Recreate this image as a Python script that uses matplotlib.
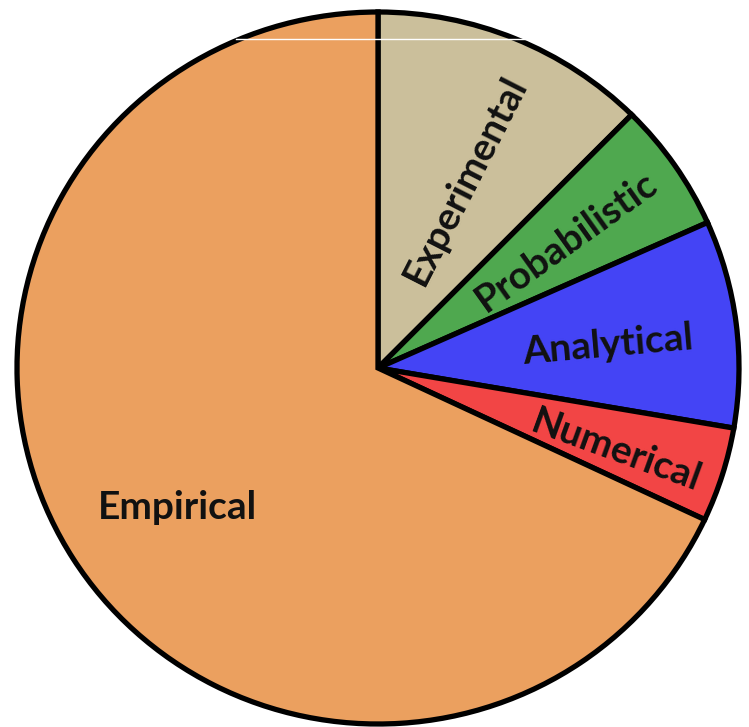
import matplotlib
matplotlib.use("Agg")
import matplotlib.pyplot as plt
from matplotlib.lines import Line2D
import numpy as np

categories = ["Experimental", "Probabilistic", "Analytical", "Numerical", "Empirical"]
shares = [12.4, 5.9, 9.4, 4.3, 68.0]
colors = ["#CBBF9B", "#4FA84F", "#4444F5", "#F24545", "#EBA05F"]

# label layout: radial distance (fraction of radius), angle offset, rotation
label_r = [0.58, 0.63, 0.64, 0.70, 0.68]
label_dang = [-2.3, -0.5, -1.5, -1.9, 2.8]
label_rot = [63, 35.5, 5, -20, 0]

W, H = 749, 727
fig = plt.figure(figsize=(W / 100, H / 100), dpi=100)
cx, cy, rx, ry = 378, 368, 361, 356
ax = fig.add_axes([(cx - rx) / W, (H - cy - ry) / H, 2 * rx / W, 2 * ry / H])

wedges, _ = ax.pie(shares, colors=colors, startangle=90, counterclock=False,
                   wedgeprops=dict(edgecolor="black", linewidth=3.8, joinstyle="miter"))
ax.set_aspect("auto")
ax.set_xlim(-1.0, 1.0)
ax.set_ylim(-1.0, 1.0)
ax.axis("off")

for w, name, r, da, rot in zip(wedges, categories, label_r, label_dang, label_rot):
    mid = np.deg2rad((w.theta1 + w.theta2) / 2 + da)
    ax.text(r * np.cos(mid), r * np.sin(mid), name, ha="center", va="center",
            rotation=rot, rotation_mode="anchor", fontsize=28, fontweight="bold",
            family=["Lato", "DejaVu Sans"], color="#111111")

# thin white scan line visible in the reference image
fig.add_artist(Line2D([236 / W, 1.0], [(H - 39) / H] * 2, color="white", lw=1.0,
                      transform=fig.transFigure))

fig.savefig("out.png", dpi=100)
